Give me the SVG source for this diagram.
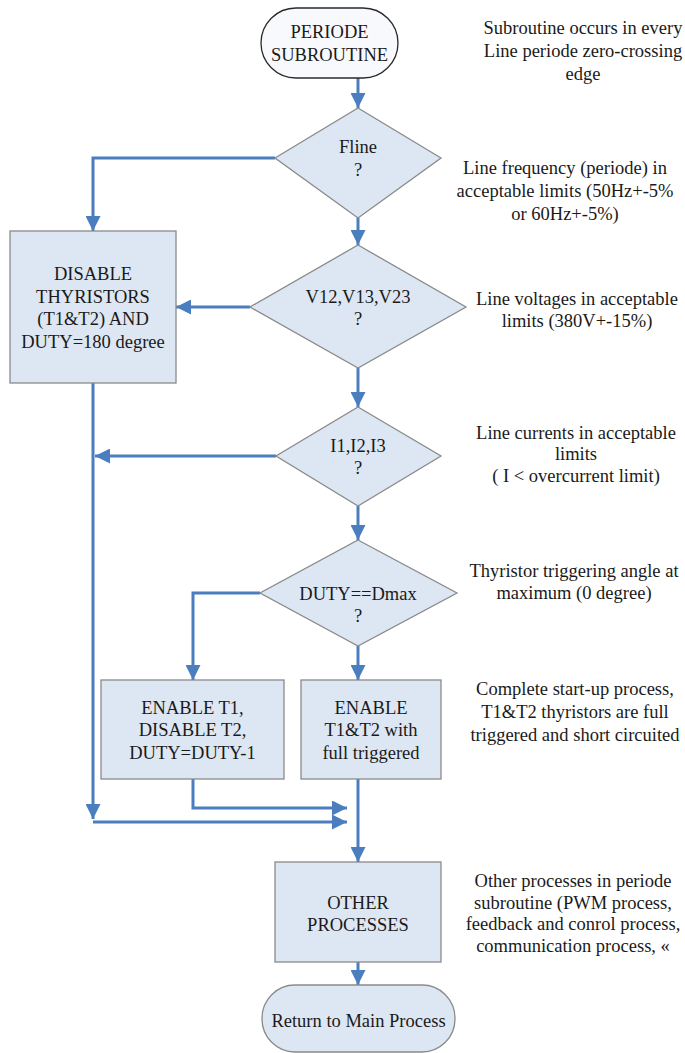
<svg xmlns="http://www.w3.org/2000/svg" width="685" height="1053" viewBox="0 0 685 1053">
<defs>
<style>
.t{font-size:18.5px;fill:#1a1a1a;text-anchor:middle}
.n{fill:#dde7f3;stroke:#8a8a8a;stroke-width:1.3}
.c{fill:none;stroke:#4a7ebe;stroke-width:3}
</style>
<marker id="ah" viewBox="0 0 10 10" refX="10" refY="5" markerWidth="15" markerHeight="15" markerUnits="userSpaceOnUse" orient="auto">
<path d="M0,0 L10,5 L0,10 Z" fill="#4a7ebe"/>
</marker>
</defs>
<rect width="685" height="1053" fill="#ffffff"/>

<g id="connectors">
<path class="c" d="M358,78 V108" marker-end="url(#ah)"/>
<path class="c" d="M275,158 H93 V231" marker-end="url(#ah)"/>
<path class="c" d="M358,218 V245" marker-end="url(#ah)"/>
<path class="c" d="M250,307 H176" marker-end="url(#ah)"/>
<path class="c" d="M358,368 V407" marker-end="url(#ah)"/>
<path class="c" d="M276,456 H95" marker-end="url(#ah)"/>
<path class="c" d="M93,383 V819" marker-end="url(#ah)"/>
<path class="c" d="M93,822 H347" marker-end="url(#ah)"/>
<path class="c" d="M358,506 V540" marker-end="url(#ah)"/>
<path class="c" d="M260,593 H193 V680" marker-end="url(#ah)"/>
<path class="c" d="M358,646 V680" marker-end="url(#ah)"/>
<path class="c" d="M193,779 V808 H347" marker-end="url(#ah)"/>
<path class="c" d="M358,779 V862" marker-end="url(#ah)"/>
<path class="c" d="M358,962 V985" marker-end="url(#ah)"/>
</g>

<g font-family="Liberation Serif, Times New Roman, serif">
<g id="start">
<rect x="261" y="8" width="137" height="70" rx="35" ry="35" fill="#f7f9fc" stroke="#2a2a2a" stroke-width="1.3"/>
<text class="t" x="329.5" y="38">PERIODE</text>
<text class="t" x="329.5" y="61">SUBROUTINE</text>
</g>

<g id="fline">
<polygon class="n" points="358,108 441,158 358,218 275,158"/>
<text class="t" x="358" y="153">Fline</text>
<text class="t" x="358" y="176">?</text>
</g>

<g id="disable">
<rect class="n" x="10" y="231" width="166" height="152"/>
<text class="t" x="93" y="279.5">DISABLE</text>
<text class="t" x="93" y="302.5">THYRISTORS</text>
<text class="t" x="93" y="324.5">(T1&amp;T2) AND</text>
<text class="t" x="93" y="347.5">DUTY=180 degree</text>
</g>

<g id="voltages">
<polygon class="n" points="358,245 466,307 358,368 250,307"/>
<text class="t" x="358" y="302.5">V12,V13,V23</text>
<text class="t" x="358" y="324.5">?</text>
</g>

<g id="currents">
<polygon class="n" points="358,407 441,456 358,506 276,456"/>
<text class="t" x="358" y="451.5">I1,I2,I3</text>
<text class="t" x="358" y="473.5">?</text>
</g>

<g id="duty">
<polygon class="n" points="358,540 457,593 358,646 260,593"/>
<text class="t" x="358" y="599.5">DUTY==Dmax</text>
<text class="t" x="358" y="621.5">?</text>
</g>

<g id="enable-t1">
<rect class="n" x="101" y="680" width="183" height="99"/>
<text class="t" x="192.5" y="713.5">ENABLE T1,</text>
<text class="t" x="192.5" y="735.5">DISABLE T2,</text>
<text class="t" x="192.5" y="758.5">DUTY=DUTY-1</text>
</g>

<g id="enable-both">
<rect class="n" x="301" y="680" width="140" height="99"/>
<text class="t" x="371" y="713.5">ENABLE</text>
<text class="t" x="371" y="735.5">T1&amp;T2 with</text>
<text class="t" x="371" y="758.5">full triggered</text>
</g>

<g id="other">
<rect class="n" x="275" y="862" width="166" height="100"/>
<text class="t" x="358" y="908.5">OTHER</text>
<text class="t" x="358" y="930.5">PROCESSES</text>
</g>

<g id="return">
<rect class="n" x="262" y="985" width="193" height="67" rx="33" ry="33"/>
<text class="t" x="358.5" y="1026.5">Return to Main Process</text>
</g>

<g id="notes">
<text class="t" x="583" y="33.5">Subroutine occurs in every</text>
<text class="t" x="583" y="56.5">Line periode zero-crossing</text>
<text class="t" x="583" y="79.5">edge</text>
<text class="t" x="565" y="173.5">Line frequency (periode) in</text>
<text class="t" x="565" y="196.5">acceptable limits (50Hz+-5%</text>
<text class="t" x="565" y="219.5">or 60Hz+-5%)</text>
<text class="t" x="577" y="304.5">Line voltages in acceptable</text>
<text class="t" x="577" y="326.5">limits (380V+-15%)</text>
<text class="t" x="576" y="438.5">Line currents in acceptable</text>
<text class="t" x="576" y="459.5">limits</text>
<text class="t" x="576" y="481.5">( I &lt; overcurrent limit)</text>
<text class="t" x="574" y="576.5">Thyristor triggering angle at</text>
<text class="t" x="574" y="598.5">maximum (0 degree)</text>
<text class="t" x="575" y="694.5">Complete start-up process,</text>
<text class="t" x="575" y="717.5">T1&amp;T2 thyristors are full</text>
<text class="t" x="575" y="740.5">triggered and short circuited</text>
<text class="t" x="573" y="886.5">Other processes in periode</text>
<text class="t" x="573" y="908.5">subroutine (PWM process,</text>
<text class="t" x="573" y="929.5">feedback and conrol process,</text>
<text class="t" x="573" y="951.5">communication process, «</text>
</g>
</g>
</svg>
